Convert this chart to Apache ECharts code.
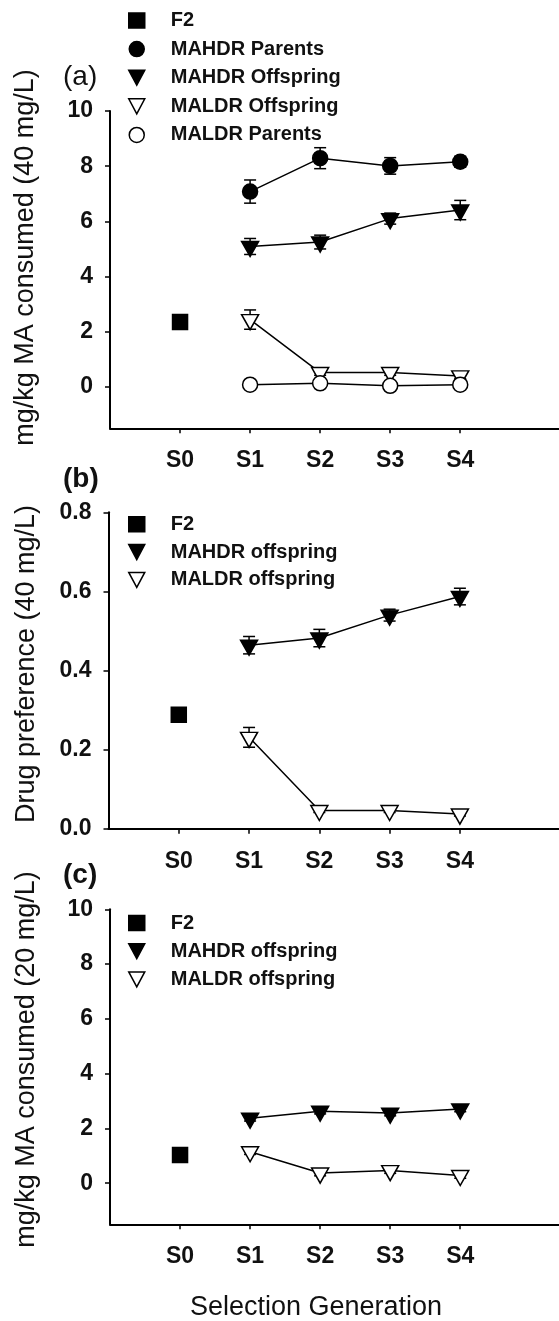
<!DOCTYPE html>
<html>
<head>
<meta charset="utf-8">
<script src="https://cdn.jsdelivr.net/npm/echarts@6/dist/echarts.min.js"></script>
<style>
html,body{margin:0;padding:0;background:#fff;}
#chart{width:559px;height:1321px;}
</style>
</head>
<body>
<div id="chart"></div>
<script>
// ---------- data ----------
const categories = ['S0', 'S1', 'S2', 'S3', 'S4'];
const baseGen = ['S0'];
const selectedGens = ['S1', 'S2', 'S3', 'S4'];

// Panel (a): mg/kg MA consumed (40 mg/L)
const a_F2 = [2.35];
const a_F2_err = [0.1];
const a_MAHDR_Parents = [7.08, 8.29, 8.01, 8.16];
const a_MAHDR_Parents_err = [0.42, 0.38, 0.3, 0.2];
const a_MAHDR_Offspring = [5.09, 5.25, 6.10, 6.41];
const a_MAHDR_Offspring_err = [0.29, 0.25, 0.2, 0.35];
const a_MALDR_Offspring = [2.44, 0.52, 0.52, 0.40];
const a_MALDR_Offspring_err = [0.35, 0.1, 0.1, 0.1];
const a_MALDR_Parents = [0.08, 0.13, 0.04, 0.08];
const a_MALDR_Parents_err = [0.05, 0.05, 0.05, 0.05];

// Panel (b): drug preference (40 mg/L)
const b_F2 = [0.288];
const b_F2_err = [0.012];
const b_MAHDR_offspring = [0.464, 0.482, 0.540, 0.587];
const b_MAHDR_offspring_err = [0.022, 0.022, 0.015, 0.021];
const b_MALDR_offspring = [0.231, 0.046, 0.046, 0.037];
const b_MALDR_offspring_err = [0.025, 0.005, 0.005, 0.005];

// Panel (c): mg/kg MA consumed (20 mg/L)
const c_F2 = [1.03];
const c_F2_err = [0.1];
const c_MAHDR_offspring = [2.37, 2.63, 2.56, 2.71];
const c_MAHDR_offspring_err = [0.1, 0.1, 0.1, 0.1];
const c_MALDR_offspring = [1.15, 0.37, 0.46, 0.28];
const c_MALDR_offspring_err = [0.1, 0.1, 0.1, 0.1];

const aTicks = [0, 2, 4, 6, 8, 10];
const bTicks = [0, 0.2, 0.4, 0.6, 0.8];
const cTicks = [0, 2, 4, 6, 8, 10];

// ---------- helpers ----------
const FONT = '"Liberation Sans", Arial, sans-serif';
const BLACK = '#000';
function pts(gens, vals) { return gens.map((g, i) => [categories.indexOf(g), vals[i]]); }
function errPts(gens, vals, errs) { return gens.map((g, i) => [categories.indexOf(g), vals[i], errs[i]]); }

const SYM = {
  square: { symbol: 'rect', symbolSize: 15, fill: BLACK },
  circle: { symbol: 'circle', symbolSize: 15, fill: BLACK },
  openCircle: { symbol: 'circle', symbolSize: 15, fill: '#fff' },
  tri: { symbol: 'triangle', symbolSize: [17, 15], symbolRotate: 180, symbolOffset: [0, 2.5], fill: BLACK },
  openTri: { symbol: 'triangle', symbolSize: [17, 15], symbolRotate: 180, symbolOffset: [0, 2.5], fill: '#fff' }
};
const LEG_ICON = {
  square: 'rect', circle: 'circle', openCircle: 'circle',
  tri: 'path://M0,0L16,0L8,15Z', openTri: 'path://M0,0L16,0L8,15Z'
};

function lineSeries(name, idx, gens, vals, sym) {
  const s = SYM[sym];
  return {
    type: gens.length > 1 ? 'line' : 'scatter',
    name: name, xAxisIndex: idx, yAxisIndex: idx,
    data: pts(gens, vals),
    symbol: s.symbol, symbolSize: s.symbolSize,
    symbolRotate: s.symbolRotate || 0, symbolOffset: s.symbolOffset || [0, 0],
    showSymbol: true,
    lineStyle: { color: BLACK, width: 1.5 },
    itemStyle: { color: s.fill, borderColor: BLACK, borderWidth: 1.5, opacity: 1 },
    emphasis: { disabled: true },
    animation: false, z: 3
  };
}
function errSeries(idx, gens, vals, errs) {
  return {
    type: 'custom', xAxisIndex: idx, yAxisIndex: idx,
    data: errPts(gens, vals, errs), z: 1, animation: false, silent: true,
    encode: { x: 0, y: 1 },
    renderItem: function (params, api) {
      const x = api.value(0), y = api.value(1), e = api.value(2);
      const t = api.coord([x, y + e]);
      const b = api.coord([x, y - e]);
      const hw = 6;
      const st = { stroke: BLACK, lineWidth: 1.5 };
      return { type: 'group', children: [
        { type: 'line', shape: { x1: t[0], y1: t[1], x2: b[0], y2: b[1] }, style: st },
        { type: 'line', shape: { x1: t[0] - hw, y1: t[1], x2: t[0] + hw, y2: t[1] }, style: st },
        { type: 'line', shape: { x1: b[0] - hw, y1: b[1], x2: b[0] + hw, y2: b[1] }, style: st }
      ]};
    }
  };
}
function legendItem(name, sym) {
  const s = SYM[sym];
  return { name: name, icon: LEG_ICON[sym],
    itemStyle: { color: s.fill, borderColor: BLACK, borderWidth: 1.5 } };
}
function makeLegend(top, gap, items) {
  return {
    orient: 'vertical', left: 128, top: top, padding: 0, itemWidth: 16, itemHeight: 15, itemGap: gap,
    selectedMode: false,
    textStyle: { fontFamily: FONT, fontSize: 20, fontWeight: 'bold', color: '#111', padding: [0, 0, 0, 21] },
    data: items
  };
}
function xAx(idx) {
  return {
    type: 'value', gridIndex: idx, min: -1, max: 5.41,
    splitLine: { show: false },
    axisLine: { onZero: false, lineStyle: { color: BLACK, width: 2 } },
    axisTick: { show: true, length: 5, customValues: [0, 1, 2, 3, 4], lineStyle: { color: BLACK, width: 1.5 } },
    axisLabel: { customValues: [0, 1, 2, 3, 4], margin: 21, fontFamily: FONT, fontSize: 23, fontWeight: 'bold', color: '#111',
      formatter: v => categories[v] }
  };
}
function yAx(idx, min, max, ticks, fmt) {
  return {
    type: 'value', gridIndex: idx, min: min, max: max,
    splitLine: { show: false },
    axisLine: { show: true, onZero: false, lineStyle: { color: BLACK, width: 2 } },
    axisTick: { show: true, length: 5, customValues: ticks, lineStyle: { color: BLACK, width: 1.5 } },
    axisLabel: { customValues: ticks, margin: 17, fontFamily: FONT, fontSize: 23, fontWeight: 'bold', color: '#111', formatter: fmt }
  };
}
function txt(x, y, text, size, opts) {
  return Object.assign({
    type: 'text', x: x, y: y, silent: true,
    style: Object.assign({ text: text, fill: '#111', font: (opts && opts.bold ? 'bold ' : '') + size + 'px ' + FONT,
      align: 'center', verticalAlign: 'middle' }, (opts && opts.style) || {})
  }, (opts && opts.el) || {});
}

const option = {
  backgroundColor: '#fff',
  animation: false,
  grid: [
    { left: 110, top: 111, right: 0, height: 317.3 },
    { left: 108.5, top: 512.3, right: 0, height: 316.4 },
    { left: 110, top: 909.3, right: 0, height: 315 }
  ],
  xAxis: [xAx(0), xAx(1), xAx(2)],
  yAxis: [
    yAx(0, -1.5, 10, aTicks, v => String(v)),
    yAx(1, 0, 0.8, bTicks, v => v.toFixed(1)),
    yAx(2, -1.5, 10, cTicks, v => String(v))
  ],
  legend: [
    makeLegend(10.5, 8.6, [
      legendItem('F2', 'square'),
      legendItem('MAHDR Parents', 'circle'),
      legendItem('MAHDR Offspring', 'tri'),
      legendItem('MALDR Offspring', 'openTri'),
      legendItem('MALDR Parents', 'openCircle')
    ]),
    makeLegend(514.3, 7.8, [
      legendItem('F2', 'square'),
      legendItem('MAHDR offspring', 'tri'),
      legendItem('MALDR offspring', 'openTri')
    ]),
    makeLegend(913, 8.2, [
      legendItem('F2', 'square'),
      legendItem('MAHDR offspring', 'tri'),
      legendItem('MALDR offspring', 'openTri')
    ])
  ],
  series: [
    errSeries(0, baseGen, a_F2, a_F2_err),
    errSeries(0, selectedGens, a_MAHDR_Parents, a_MAHDR_Parents_err),
    errSeries(0, selectedGens, a_MAHDR_Offspring, a_MAHDR_Offspring_err),
    errSeries(0, selectedGens, a_MALDR_Offspring, a_MALDR_Offspring_err),
    errSeries(0, selectedGens, a_MALDR_Parents, a_MALDR_Parents_err),
    lineSeries('F2', 0, baseGen, a_F2, 'square'),
    lineSeries('MAHDR Parents', 0, selectedGens, a_MAHDR_Parents, 'circle'),
    lineSeries('MAHDR Offspring', 0, selectedGens, a_MAHDR_Offspring, 'tri'),
    lineSeries('MALDR Offspring', 0, selectedGens, a_MALDR_Offspring, 'openTri'),
    lineSeries('MALDR Parents', 0, selectedGens, a_MALDR_Parents, 'openCircle'),

    errSeries(1, baseGen, b_F2, b_F2_err),
    errSeries(1, selectedGens, b_MAHDR_offspring, b_MAHDR_offspring_err),
    errSeries(1, selectedGens, b_MALDR_offspring, b_MALDR_offspring_err),
    lineSeries('F2', 1, baseGen, b_F2, 'square'),
    lineSeries('MAHDR offspring', 1, selectedGens, b_MAHDR_offspring, 'tri'),
    lineSeries('MALDR offspring', 1, selectedGens, b_MALDR_offspring, 'openTri'),

    errSeries(2, baseGen, c_F2, c_F2_err),
    errSeries(2, selectedGens, c_MAHDR_offspring, c_MAHDR_offspring_err),
    errSeries(2, selectedGens, c_MALDR_offspring, c_MALDR_offspring_err),
    lineSeries('F2', 2, baseGen, c_F2, 'square'),
    lineSeries('MAHDR offspring', 2, selectedGens, c_MAHDR_offspring, 'tri'),
    lineSeries('MALDR offspring', 2, selectedGens, c_MALDR_offspring, 'openTri')
  ],
  graphic: [
    txt(26, 257.5, 'mg/kg MA consumed (40 mg/L)', 27, { el: { rotation: Math.PI / 2 } }),
    txt(27, 664, 'Drug preference (40 mg/L)', 27, { el: { rotation: Math.PI / 2 } }),
    txt(27, 1059.5, 'mg/kg MA consumed (20 mg/L)', 27, { el: { rotation: Math.PI / 2 } }),
    txt(63, 77, '(a)', 28, { style: { align: 'left' } }),
    txt(63, 479, '(b)', 28, { bold: true, style: { align: 'left' } }),
    txt(63, 875, '(c)', 28, { bold: true, style: { align: 'left' } }),
    txt(316, 1308, 'Selection Generation', 27)
  ]
};

const chart = echarts.init(document.getElementById('chart'), null, { renderer: 'canvas' });
chart.setOption(option);
</script>
</body>
</html>
